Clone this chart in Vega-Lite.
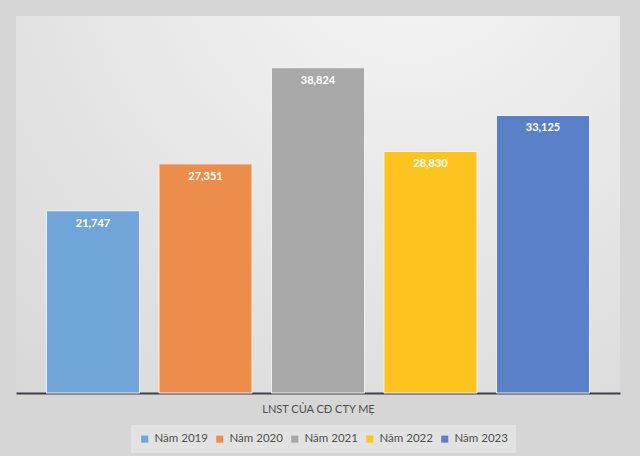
{
  "$schema": "https://vega.github.io/schema/vega-lite/v6.json",
  "autosize": {"type": "none"},
  "width": 604,
  "height": 377,
  "padding": {"left": 16, "top": 16, "right": 20, "bottom": 63},
  "background": "#d6d6d6",
  "data": {
    "values": [
      {"series": "Năm 2019", "value": 21747},
      {"series": "Năm 2020", "value": 27351},
      {"series": "Năm 2021", "value": 38824},
      {"series": "Năm 2022", "value": 28830},
      {"series": "Năm 2023", "value": 33125}
    ]
  },
  "encoding": {
    "x": {
      "field": "series",
      "type": "nominal",
      "sort": null,
      "title": "LNST CỦA CĐ CTY MẸ",
      "scale": {"paddingInner": 0.173, "paddingOuter": 0.271},
      "axis": {
        "labels": false,
        "ticks": false,
        "domainColor": "#404048",
        "domainWidth": 2,
        "titleFont": "Lato",
        "titleFontSize": 11,
        "titleFontWeight": "normal",
        "titleColor": "#505050",
        "titlePadding": 10
      }
    },
    "y": {
      "field": "value",
      "type": "quantitative",
      "scale": {"domain": [0, 45000]},
      "axis": null
    }
  },
  "layer": [
    {
      "mark": {"type": "bar", "stroke": "#f0f0f0", "strokeWidth": 1},
      "encoding": {
        "color": {
          "field": "series",
          "type": "nominal",
          "sort": null,
          "title": null,
          "scale": {"range": ["#6fa5d8", "#ec8d4c", "#a8a8a8", "#fdc31f", "#5a81c8"]},
          "legend": {
            "orient": "none",
            "legendX": 115,
            "legendY": 409,
            "direction": "horizontal",
            "symbolType": "square",
            "symbolSize": 50,
            "symbolStrokeWidth": 0,
            "labelFont": "Lato",
            "labelFontSize": 11.5,
            "labelColor": "#505050",
            "labelOffset": 4,
            "columnPadding": 6,
            "fillColor": "#e1e2e1",
            "padding": 8
          }
        }
      }
    },
    {
      "mark": {
        "type": "text",
        "baseline": "middle",
        "dy": 13,
        "color": "white",
        "font": "Lato",
        "fontSize": 11,
        "fontWeight": "bold"
      },
      "encoding": {
        "text": {"field": "value", "type": "quantitative", "format": ","}
      }
    }
  ],
  "config": {
    "view": {
      "stroke": null,
      "fill": {
        "gradient": "radial",
        "x1": 0.65, "y1": 0.05, "r1": 0,
        "x2": 0.65, "y2": 0.05, "r2": 1,
        "stops": [
          {"offset": 0, "color": "#f6f6f6"},
          {"offset": 1, "color": "#d8d8d8"}
        ]
      }
    }
  }
}
